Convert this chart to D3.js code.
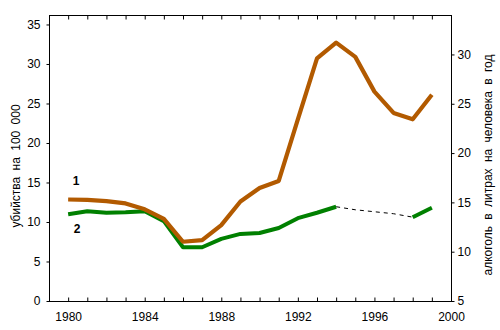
<!DOCTYPE html>
<html lang="ru">
<head>
<meta charset="UTF-8">
<title>убийства и алкоголь</title>
<style>
    body { margin: 0; background: #fff; }
    svg text { font-family: "Liberation Sans", Arial, sans-serif; font-size: 12px; fill: #000; }
    .axis path, .axis line { stroke: #000; stroke-width: 1px; }
    .title { word-spacing: 3px; }
    .num { font-weight: bold; }
</style>
</head>
<body>
<div id="chart"></div>
<script src="https://cdn.jsdelivr.net/npm/d3@7"></script>
<script>
    // data
    var years = [1980, 1981, 1982, 1983, 1984, 1985, 1986, 1987, 1988, 1989,
                 1990, 1991, 1992, 1993, 1994, 1995, 1996, 1997, 1998, 1999];
    var murders = [12.85, 12.8, 12.65, 12.35, 11.6, 10.4, 7.5, 7.7, 9.6, 12.6,
                   14.3, 15.2, 23.0, 30.7, 32.7, 30.9, 26.5, 23.8, 23.0, 26.1];
    var alcohol = [13.8, 14.1, 13.95, 14.0, 14.1, 13.1, 10.45, 10.45, 11.3, 11.8,
                   11.9, 12.4, 13.4, 13.95, 14.56, 14.25, 14.05, 13.85, 13.5, 14.46];
    // alcohol has no measured values between these years (drawn dashed)
    var gapFrom = 1994, gapTo = 1998;
    var xTicks = d3.range(1980, 2001);
    var leftTicks = [0, 5, 10, 15, 20, 25, 30, 35];
    var rightTicks = [5, 10, 15, 20, 25, 30];

    var W = 500, H = 330;
    var pL = 49, pR = 451, pT = 15, pB = 301;

    var svg = d3.select("#chart").append("svg")
        .attr("width", W)
        .attr("height", H);

    var x = d3.scaleLinear().domain([1979, 2000]).range([pL, pR]);
    var yL = d3.scaleLinear().domain([0, 36.2]).range([pB, pT]);
    var yR = d3.scaleLinear().domain([5, 34]).range([pB, pT]);

    // frame
    svg.append("rect")
        .attr("x", pL + 0.5).attr("y", pT + 0.5)
        .attr("width", pR - pL).attr("height", pB - pT)
        .attr("fill", "none").attr("stroke", "#000");

    // bottom axis, ticks pointing in
    var gx = svg.append("g").attr("class", "axis")
        .attr("transform", "translate(0," + (pB + 0.5) + ")")
        .call(d3.axisBottom(x).tickValues(xTicks)
            .tickSizeInner(-4).tickSizeOuter(0).tickPadding(11)
            .tickFormat(function (d) { return d % 4 === 0 ? d : ""; }));
    gx.select(".domain").remove();

    // top ticks, pointing in
    var gt = svg.append("g").attr("class", "axis")
        .attr("transform", "translate(0," + (pT + 0.5) + ")")
        .call(d3.axisTop(x).tickValues(xTicks).tickSizeInner(-4).tickSizeOuter(0).tickFormat(""));
    gt.select(".domain").remove();

    var gl = svg.append("g").attr("class", "axis")
        .attr("transform", "translate(" + (pL + 0.5) + ",0)")
        .call(d3.axisLeft(yL).tickValues(leftTicks).tickSizeInner(3).tickSizeOuter(0).tickPadding(6));
    gl.select(".domain").remove();

    var gr = svg.append("g").attr("class", "axis")
        .attr("transform", "translate(" + (pR + 0.5) + ",0)")
        .call(d3.axisRight(yR).tickValues(rightTicks).tickSizeInner(3).tickSizeOuter(0).tickPadding(3));
    gr.select(".domain").remove();

    svg.selectAll(".axis").attr("font-family", null).attr("font-size", null);

    // axis titles
    svg.append("text").attr("class", "title")
        .attr("transform", "translate(20,166) rotate(-90)")
        .attr("text-anchor", "middle")
        .text("убийства на 100 000");
    svg.append("text").attr("class", "title")
        .attr("transform", "translate(492,165) rotate(-90)")
        .attr("text-anchor", "middle")
        .text("алкоголь в литрах на человека в год");

    var murderData = years.map(function (y, i) { return [y, murders[i]]; });
    var alcData = years.map(function (y, i) { return [y, alcohol[i]]; });

    var lineL = d3.line().x(function (d) { return x(d[0]); }).y(function (d) { return yL(d[1]); });
    var lineR = d3.line().x(function (d) { return x(d[0]); }).y(function (d) { return yR(d[1]); });

    // alcohol: solid where measured, dashed across the gap
    var solidA = alcData.filter(function (d) { return d[0] <= gapFrom; });
    var solidB = alcData.filter(function (d) { return d[0] >= gapTo; });
    var gap = alcData.filter(function (d) { return d[0] >= gapFrom && d[0] <= gapTo; });

    svg.append("path").datum(gap)
        .attr("d", lineR).attr("fill", "none")
        .attr("stroke", "#000").attr("stroke-width", 1)
        .attr("stroke-dasharray", "4,4");

    [solidA, solidB].forEach(function (seg) {
        svg.append("path").datum(seg)
            .attr("d", lineR).attr("fill", "none")
            .attr("stroke", "#008000").attr("stroke-width", 4)
            .attr("stroke-linejoin", "round");
    });

    svg.append("path").datum(murderData)
        .attr("d", lineL).attr("fill", "none")
        .attr("stroke", "#b25a00").attr("stroke-width", 4.2)
        .attr("stroke-linejoin", "round");

    svg.append("text").attr("class", "num").attr("x", 76).attr("y", 185)
        .attr("text-anchor", "middle").text("1");
    svg.append("text").attr("class", "num").attr("x", 77).attr("y", 233)
        .attr("text-anchor", "middle").text("2");
</script>
</body>
</html>
